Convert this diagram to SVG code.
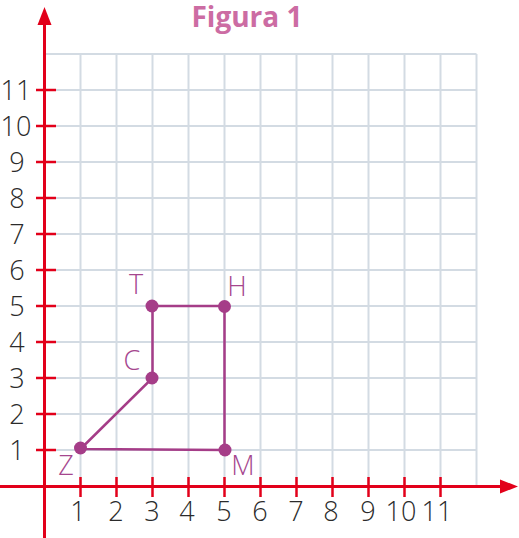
<svg xmlns="http://www.w3.org/2000/svg" width="519" height="538" viewBox="0 0 519 538">
<style>
.grid line{stroke:#d3dbe3;stroke-width:2}
.axis{stroke:#e2001a;stroke-width:3;fill:none}
.tick{stroke:#e2001a;stroke-width:2.5}
.num{font-family:"Open Sans","Liberation Sans",sans-serif;font-weight:300;font-size:27px;fill:#2b2b2b;text-anchor:middle}
.lbl{font-family:"Open Sans","Liberation Sans",sans-serif;font-weight:300;font-size:27px;fill:#a5468e;text-anchor:middle}
.edge{stroke:#a53d88;stroke-width:2.5;fill:none}
.pt{fill:#a53d88}
</style>
<rect width="519" height="538" fill="#ffffff"/>
<text x="247" y="27" font-family="'Open Sans','Liberation Sans',sans-serif" font-weight="700" font-size="28" fill="#cc6ca3" text-anchor="middle">Figura 1</text>
<g id="grid" class="grid">
<line x1="80.5" y1="54" x2="80.5" y2="486"/>
<line x1="116.5" y1="54" x2="116.5" y2="486"/>
<line x1="152.5" y1="54" x2="152.5" y2="486"/>
<line x1="188.5" y1="54" x2="188.5" y2="486"/>
<line x1="224.5" y1="54" x2="224.5" y2="486"/>
<line x1="260.5" y1="54" x2="260.5" y2="486"/>
<line x1="296.5" y1="54" x2="296.5" y2="486"/>
<line x1="332.5" y1="54" x2="332.5" y2="486"/>
<line x1="368.5" y1="54" x2="368.5" y2="486"/>
<line x1="404.5" y1="54" x2="404.5" y2="486"/>
<line x1="440.5" y1="54" x2="440.5" y2="486"/>
<line x1="476.5" y1="54" x2="476.5" y2="486"/>
<line x1="44.5" y1="450" x2="476.5" y2="450"/>
<line x1="44.5" y1="414" x2="476.5" y2="414"/>
<line x1="44.5" y1="378" x2="476.5" y2="378"/>
<line x1="44.5" y1="342" x2="476.5" y2="342"/>
<line x1="44.5" y1="306" x2="476.5" y2="306"/>
<line x1="44.5" y1="270" x2="476.5" y2="270"/>
<line x1="44.5" y1="234" x2="476.5" y2="234"/>
<line x1="44.5" y1="198" x2="476.5" y2="198"/>
<line x1="44.5" y1="162" x2="476.5" y2="162"/>
<line x1="44.5" y1="126" x2="476.5" y2="126"/>
<line x1="44.5" y1="90" x2="476.5" y2="90"/>
<line x1="44.5" y1="54" x2="476.5" y2="54"/>
</g>
<g id="axes">
<line class="axis" x1="44.5" y1="538" x2="44.5" y2="22"/>
<polygon points="44.5,7 37.5,25 51.5,25" fill="#e2001a"/>
<line class="axis" x1="0" y1="486.5" x2="503" y2="486.5"/>
<polygon points="518,486.5 500,479.5 500,493.5" fill="#e2001a"/>
<g class="tick">
<line x1="36" y1="450" x2="56" y2="450"/>
<line x1="36" y1="414" x2="56" y2="414"/>
<line x1="36" y1="378" x2="56" y2="378"/>
<line x1="36" y1="342" x2="56" y2="342"/>
<line x1="36" y1="306" x2="56" y2="306"/>
<line x1="36" y1="270" x2="56" y2="270"/>
<line x1="36" y1="234" x2="56" y2="234"/>
<line x1="36" y1="198" x2="56" y2="198"/>
<line x1="36" y1="162" x2="56" y2="162"/>
<line x1="36" y1="126" x2="56" y2="126"/>
<line x1="36" y1="90" x2="56" y2="90"/>
<line x1="80.5" y1="477" x2="80.5" y2="497"/>
<line x1="116.5" y1="477" x2="116.5" y2="497"/>
<line x1="152.5" y1="477" x2="152.5" y2="497"/>
<line x1="188.5" y1="477" x2="188.5" y2="497"/>
<line x1="224.5" y1="477" x2="224.5" y2="497"/>
<line x1="260.5" y1="477" x2="260.5" y2="497"/>
<line x1="296.5" y1="477" x2="296.5" y2="497"/>
<line x1="332.5" y1="477" x2="332.5" y2="497"/>
<line x1="368.5" y1="477" x2="368.5" y2="497"/>
<line x1="404.5" y1="477" x2="404.5" y2="497"/>
<line x1="440.5" y1="477" x2="440.5" y2="497"/>
</g>
<g class="num">
<text x="17" y="460">1</text>
<text x="17" y="424">2</text>
<text x="17" y="388">3</text>
<text x="17" y="352">4</text>
<text x="17" y="316">5</text>
<text x="17" y="280">6</text>
<text x="17" y="244">7</text>
<text x="17" y="208">8</text>
<text x="17" y="172">9</text>
<text x="16" y="136">10</text>
<text x="16" y="100">11</text>
<text x="78" y="521">1</text>
<text x="116" y="521">2</text>
<text x="152" y="521">3</text>
<text x="187" y="521">4</text>
<text x="224" y="521">5</text>
<text x="260" y="521">6</text>
<text x="296" y="521">7</text>
<text x="331" y="521">8</text>
<text x="368" y="521">9</text>
<text x="401" y="521">10</text>
<text x="437" y="521">11</text>
</g>
</g>
<g id="connectors">
<polyline class="edge" points="80.5,449 224.5,450 224.5,306 152.5,306 152.5,378 80.5,449"/>
</g>
<g id="node-Z"><circle class="pt" cx="80.5" cy="448" r="6.5"/><text class="lbl" x="66" y="475">Z</text></g>
<g id="node-M"><circle class="pt" cx="225" cy="450" r="6.5"/><text class="lbl" x="243" y="475">M</text></g>
<g id="node-H"><circle class="pt" cx="224.5" cy="306.5" r="6.5"/><text class="lbl" x="237" y="296">H</text></g>
<g id="node-T"><circle class="pt" cx="152" cy="306" r="6.5"/><text class="lbl" x="136" y="294">T</text></g>
<g id="node-C"><circle class="pt" cx="152" cy="378" r="6.5"/><text class="lbl" x="132" y="370">C</text></g>
</svg>
